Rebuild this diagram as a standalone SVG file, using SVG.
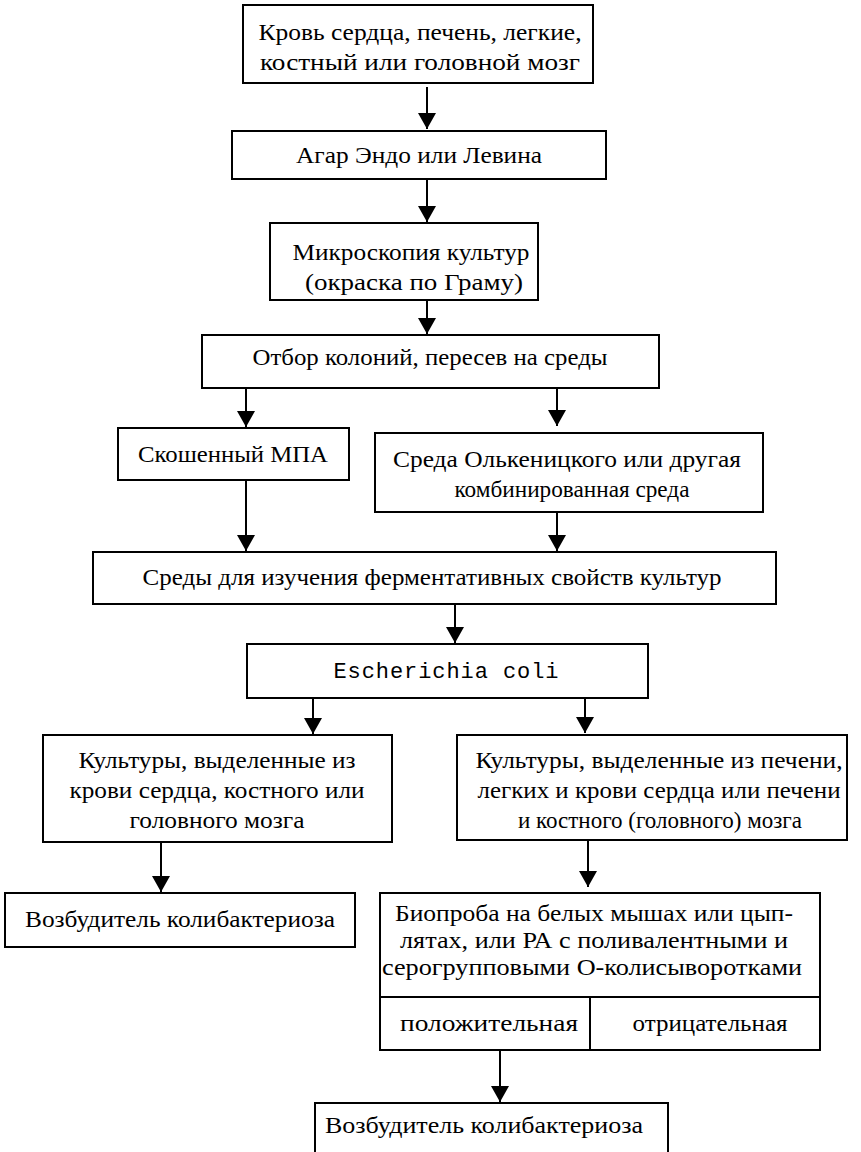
<svg xmlns="http://www.w3.org/2000/svg" width="861" height="1152" viewBox="0 0 861 1152">
<style>
.bg{fill:#fff}
.box{fill:#fff;stroke:#000;stroke-width:2}
.sep{stroke:#000;stroke-width:2}
.t{font-family:'Liberation Serif','DejaVu Serif','Times New Roman',serif;font-size:24px;fill:#000;text-anchor:middle}
.s{font-size:23px}
.m{font-family:'Liberation Mono','DejaVu Sans Mono','Courier New',monospace;font-size:22px}
.c line{stroke:#000;stroke-width:2}
</style>
<defs>
<marker id="ah" markerUnits="userSpaceOnUse" viewBox="0 0 16 18" markerWidth="16" markerHeight="18" refX="16" refY="9" orient="auto">
<path d="M0,0 L16,9 L0,18 Z" fill="#000"/>
</marker>
</defs>
<rect class="bg" x="0" y="0" width="861" height="1152"/>

<g id="n1">
<rect class="box" x="243" y="5" width="350" height="78"/>
<text class="t" x="420" y="40" textLength="323" lengthAdjust="spacingAndGlyphs">Кровь сердца, печень, легкие,</text>
<text class="t" x="420" y="70" textLength="320" lengthAdjust="spacingAndGlyphs">костный или головной мозг</text>
</g>
<g id="n2">
<rect class="box" x="232" y="131" width="374" height="48"/>
<text class="t" x="419" y="163" textLength="246" lengthAdjust="spacingAndGlyphs">Агар Эндо или Левина</text>
</g>
<g id="n3">
<rect class="box" x="270" y="223" width="268" height="77"/>
<text class="t" x="411" y="260" textLength="237" lengthAdjust="spacingAndGlyphs">Микроскопия культур</text>
<text class="t" x="414" y="290" textLength="218" lengthAdjust="spacingAndGlyphs">(окраска по Граму)</text>
</g>
<g id="n4">
<rect class="box" x="202" y="335" width="457" height="53"/>
<text class="t" x="430" y="365" textLength="355" lengthAdjust="spacingAndGlyphs">Отбор колоний, пересев на среды</text>
</g>
<g id="n5">
<rect class="box" x="118" y="428" width="231" height="52"/>
<text class="t" x="233" y="462" textLength="190" lengthAdjust="spacingAndGlyphs">Скошенный МПА</text>
</g>
<g id="n6">
<rect class="box" x="375" y="433" width="388" height="79"/>
<text class="t" x="567" y="467" textLength="348" lengthAdjust="spacingAndGlyphs">Среда Олькеницкого или другая</text>
<text class="t" x="572" y="497" textLength="235" lengthAdjust="spacingAndGlyphs">комбинированная среда</text>
</g>
<g id="n7">
<rect class="box" x="93" y="552" width="683" height="52"/>
<text class="t" x="432" y="585" textLength="579" lengthAdjust="spacingAndGlyphs">Среды для изучения ферментативных свойств культур</text>
</g>
<g id="n8">
<rect class="box" x="247" y="644" width="401" height="54"/>
<text class="t m" x="446" y="678" textLength="225" lengthAdjust="spacing">Escherichia coli</text>
</g>
<g id="n9">
<rect class="box" x="43" y="735" width="349" height="107"/>
<text class="t" x="217" y="768" textLength="277" lengthAdjust="spacingAndGlyphs">Культуры, выделенные из</text>
<text class="t" x="217" y="798" textLength="295" lengthAdjust="spacingAndGlyphs">крови сердца, костного или</text>
<text class="t" x="217" y="828" textLength="175" lengthAdjust="spacingAndGlyphs">головного мозга</text>
</g>
<g id="n10">
<rect class="box" x="457" y="735" width="390" height="105"/>
<text class="t" x="659" y="768" textLength="367" lengthAdjust="spacingAndGlyphs">Культуры, выделенные из печени,</text>
<text class="t" x="659" y="798" textLength="363" lengthAdjust="spacingAndGlyphs">легких и крови сердца или печени</text>
<text class="t" x="660" y="828" textLength="284" lengthAdjust="spacingAndGlyphs">и костного (головного) мозга</text>
</g>
<g id="n11">
<rect class="box" x="5" y="893" width="350" height="54"/>
<text class="t" x="180" y="927" textLength="310" lengthAdjust="spacingAndGlyphs">Возбудитель колибактериоза</text>
</g>
<g id="n12">
<rect class="box" x="380" y="893" width="440" height="157"/>
<line class="sep" x1="380" y1="997" x2="820" y2="997"/>
<line class="sep" x1="590" y1="997" x2="590" y2="1050"/>
<text class="t s" x="594" y="921" textLength="398" lengthAdjust="spacingAndGlyphs">Биопроба на белых мышах или цып-</text>
<text class="t s" x="594" y="948" textLength="388" lengthAdjust="spacingAndGlyphs">лятах, или РА с поливалентными и</text>
<text class="t s" x="592" y="975" textLength="420" lengthAdjust="spacingAndGlyphs">серогрупповыми О-колисыворотками</text>
<text class="t s" x="489" y="1031" textLength="178" lengthAdjust="spacingAndGlyphs">положительная</text>
<text class="t s" x="710" y="1031" textLength="155" lengthAdjust="spacingAndGlyphs">отрицательная</text>
</g>
<g id="n13">
<rect class="box" x="315" y="1103" width="353" height="60"/>
<text class="t" x="484" y="1133" textLength="318" lengthAdjust="spacingAndGlyphs">Возбудитель колибактериоза</text>
</g>

<g id="connectors" class="c">
<line x1="427" y1="87" x2="427" y2="129" marker-end="url(#ah)"/>
<line x1="427" y1="180" x2="427" y2="222" marker-end="url(#ah)"/>
<line x1="427" y1="301" x2="427" y2="334" marker-end="url(#ah)"/>
<line x1="246" y1="389" x2="246" y2="427" marker-end="url(#ah)"/>
<line x1="557" y1="389" x2="557" y2="426" marker-end="url(#ah)"/>
<line x1="246" y1="481" x2="246" y2="551" marker-end="url(#ah)"/>
<line x1="557" y1="513" x2="557" y2="551" marker-end="url(#ah)"/>
<line x1="455" y1="605" x2="455" y2="643" marker-end="url(#ah)"/>
<line x1="313" y1="699" x2="313" y2="734" marker-end="url(#ah)"/>
<line x1="585" y1="699" x2="585" y2="733" marker-end="url(#ah)"/>
<line x1="161" y1="843" x2="161" y2="892" marker-end="url(#ah)"/>
<line x1="588" y1="841" x2="588" y2="887" marker-end="url(#ah)"/>
<line x1="500" y1="1051" x2="500" y2="1102" marker-end="url(#ah)"/>
</g>
</svg>
